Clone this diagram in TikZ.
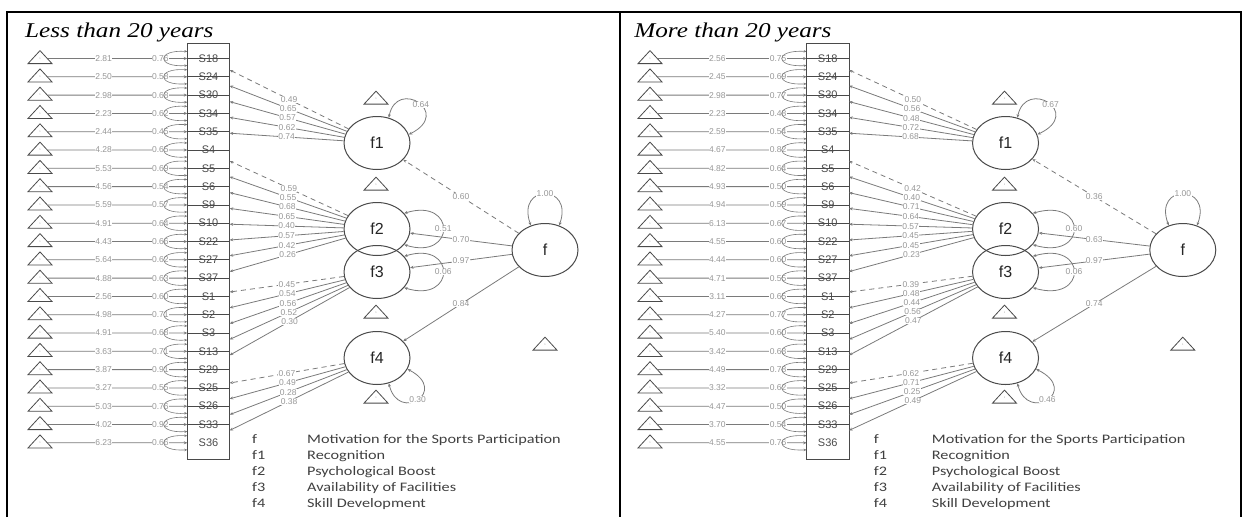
\documentclass[tikz,border=0pt]{standalone}
\usepackage{fontspec}
\usepackage{graphicx}
\setmainfont{Liberation Serif}
\setsansfont{Liberation Sans}
\newfontfamily\legendfont{Carlito}
\usetikzlibrary{shapes.geometric,arrows.meta,calc}

\definecolor{linegray}{HTML}{7A7A7A}
\definecolor{valgray}{HTML}{979797}
\definecolor{boxgray}{HTML}{4A4A4A}

\tikzset{
  item/.style={minimum width=42pt, minimum height=18.3pt, inner sep=0pt,
    font=\sffamily\fontsize{11}{11}\selectfont, text=boxgray},
  latent/.style={ellipse, draw=boxgray, line width=1pt, minimum width=66pt,
    minimum height=53pt, inner sep=0pt, font=\sffamily\fontsize{16}{16}\selectfont, text=black!85},
  tri/.style={isosceles triangle, shape border rotate=90, isosceles triangle apex angle=100,
    isosceles triangle stretches, draw=boxgray, line width=0.8pt, minimum width=24pt,
    minimum height=13pt, inner sep=0pt, font=\sffamily\fontsize{2.5}{2.5}\selectfont, text=valgray},
  val/.style={font=\sffamily\fontsize{8.5}{8.5}\selectfont, text=valgray, fill=white, inner sep=0.4pt},
  load/.style={draw=linegray, line width=0.8pt, -{Stealth[length=3.5pt,width=3pt]}},
  fixed/.style={load, dash pattern=on 5pt off 4pt},
  var/.style={draw=linegray, line width=0.8pt, {Stealth[length=3.5pt,width=3pt]}-{Stealth[length=3.5pt,width=3pt]}},
  resloop/.style={draw=linegray, line width=0.6pt, {Stealth[length=3pt,width=2.5pt]}-{Stealth[length=3pt,width=2.5pt]}},
  boxline/.style={draw=boxgray, line width=1pt},
  paneltitle/.style={font=\itshape\fontsize{21}{21}\selectfont, anchor=base west, inner sep=0pt},
  legtext/.style={font=\legendfont\fontsize{13}{13}\selectfont, text=black!75, anchor=base west, inner sep=0pt},
  frame/.style={draw=black, line width=1.5pt},
}

% loadings of one factor: prefix, factor, y of first end, values
\newcommand{\loadings}[4]{%
  \foreach \v [count=\k] in {#4} {
    \ifnum\k=1 \def\lst{fixed}\else\def\lst{load}\fi
    \pgfmathsetmacro\ye{#3+15.8*(\k-1)}
    \coordinate (#1#2e\k) at (#118.east |- 0,\ye);
    \draw[\lst] (#1#2) -- (#1#2e\k) node[val,pos=.5] {\v};
  }}

% one group: prefix, title, items, f1, f2, f3, f4, variances/paths
\newcommand{\sempanel}[8]{%
  \node[paneltitle] (#1title) at (25,37) {\scalebox{1.2}[1]{#2}};
  \foreach \s/\m/\r [count=\i from 0] in {#3} {
    \node[item] (#1\s) at (208.5,{58.5+18.3*\i}) {S\s};
    \node[tri] (#1T\s) at (40,{58.5+18.3*\i}) {1};
    \draw[load] (#1T\s.east) -- (#1\s.west) node[val,pos=.4] {\m};
    \node[val] (#1R\s) at ([xshift=-27pt]#1\s.west) {\r};
    \draw[resloop] ([yshift=7pt]#1\s.west) .. controls +(-31,-2) and +(-31,2) .. ([yshift=-7pt]#1\s.west);
    \ifnum\s=36 \else \draw[boxgray, line width=0.8pt] (#1\s.west) -- (#1\s.east); \fi
  }
  \draw[boxline] ([yshift=6pt]#118.north west) rectangle ([yshift=-7pt]#136.south east);
  % factors
  \node[latent] (#1f1) at (377,143) {f1};
  \node[latent] (#1f2) at (377,229) {f2};
  \node[latent] (#1f3) at (377,272) {f3};
  \node[latent] (#1f4) at (377,358) {f4};
  \node[latent] (#1f) at (545,250) {f};
  \node[tri] (#1Tf1) at (376,99) {1};
  \node[tri] (#1Tf2) at (376,185) {1};
  \node[tri] (#1Tf3) at (376,313) {1};
  \node[tri] (#1Tf4) at (376,398) {1};
  \node[tri] (#1Tf) at (545,345) {1};
  \loadings{#1}{f1}{70}{#4}
  \loadings{#1}{f2}{161}{#5}
  \loadings{#1}{f3}{292}{#6}
  \loadings{#1}{f4}{383}{#7}
  \foreach \va/\vb/\vc/\vd/\vf/\pa/\pb/\pc/\pd in {#8} {
    \draw[var] (#1f1.65) .. controls +(8,-40) and +(44,-22) .. (#1f1.15) node[val,pos=.55] {\va};
    \draw[var] (#1f2.30) .. controls +(52,-16) and +(52,16) .. (#1f2.-30) node[val,pos=.5] {\vb};
    \draw[var] (#1f3.30) .. controls +(52,-16) and +(52,16) .. (#1f3.-30) node[val,pos=.5] {\vc};
    \draw[var] (#1f4.-20) .. controls +(42,22) and +(10,40) .. (#1f4.-65) node[val,pos=.5] {\vd};
    \draw[var] (#1f.120) .. controls +(-15,-42) and +(15,-42) .. (#1f.60) node[val,pos=.5] {\vf};
    \draw[fixed] (#1f) -- (#1f1) node[val,pos=.5] {\pa};
    \draw[load] (#1f) -- (#1f2) node[val,pos=.5] {\pb};
    \draw[load] (#1f) -- (#1f3) node[val,pos=.5] {\pc};
    \draw[load] (#1f) -- (#1f4) node[val,pos=.5] {\pd};
  }
  % legend
  \foreach \lk/\lt [count=\j from 0] in {f/Motivation for the Sports Participation, f1/Recognition,
      f2/Psychological Boost, f3/Availability of Facilities, f4/Skill Development} {
    \node[legtext] (#1key\lk) at (252,{443+16.2*\j}) {\scalebox{1.25}[1]{\lk}};
    \node[legtext] (#1txt\lk) at (307,{443+16.2*\j}) {\scalebox{1.25}[1]{\lt}};
  }}

\begin{document}
\begin{tikzpicture}[x=1pt, y=-1pt]
\useasboundingbox (0,0) rectangle (1246,517);
\draw[frame] (7,517) -- (7,12) -- (1241,12) -- (1241,517);
\draw[frame] (620,12) -- (620,517);

\sempanel{L}{Less than 20 years}
  {18/2.81/0.76, 24/2.50/0.58, 30/2.98/0.68, 34/2.23/0.62, 35/2.44/0.45, 4/4.28/0.65,
   5/5.53/0.69, 6/4.56/0.54, 9/5.59/0.57, 10/4.91/0.64, 22/4.43/0.66, 27/5.64/0.62,
   37/4.88/0.63, 1/2.56/0.60, 2/4.98/0.71, 3/4.91/0.68, 13/3.63/0.71, 29/3.87/0.91,
   25/3.27/0.55, 26/5.03/0.76, 33/4.02/0.92, 36/6.23/0.66}
  {0.49, 0.65, 0.57, 0.62, 0.74}
  {0.59, 0.55, 0.68, 0.65, 0.40, 0.57, 0.42, 0.26}
  {0.45, 0.54, 0.56, 0.52, 0.30}
  {0.67, 0.49, 0.28, 0.38}
  {0.64/0.51/0.06/0.30/1.00/0.60/0.70/0.97/0.84}

\begin{scope}[xshift=607.8pt, xscale=1.055]
\sempanel{R}{More than 20 years}
  {18/2.56/0.75, 24/2.45/0.69, 30/2.98/0.77, 34/2.23/0.48, 35/2.59/0.54, 4/4.67/0.82,
   5/4.82/0.64, 6/4.93/0.50, 9/4.94/0.59, 10/6.13/0.67, 22/4.55/0.60, 27/4.44/0.60,
   37/4.71/0.55, 1/3.11/0.65, 2/4.27/0.77, 3/5.40/0.60, 13/3.42/0.68, 29/4.49/0.78,
   25/3.32/0.62, 26/4.47/0.50, 33/3.70/0.54, 36/4.55/0.76}
  {0.50, 0.56, 0.48, 0.72, 0.68}
  {0.42, 0.40, 0.71, 0.64, 0.57, 0.45, 0.45, 0.23}
  {0.39, 0.48, 0.44, 0.56, 0.47}
  {0.62, 0.71, 0.25, 0.49}
  {0.67/0.60/0.06/0.46/1.00/0.36/0.63/0.97/0.74}
\end{scope}
\end{tikzpicture}
\end{document}
